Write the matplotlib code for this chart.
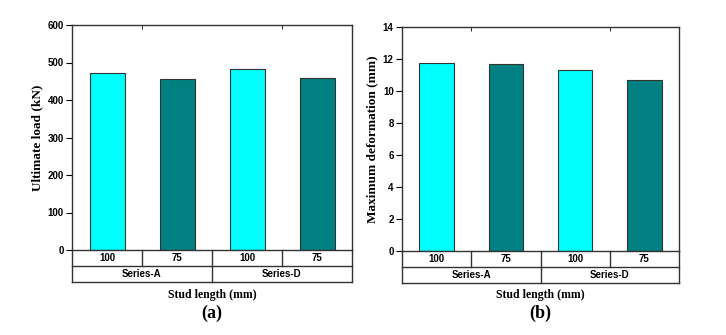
import matplotlib
matplotlib.use("Agg")
import matplotlib.pyplot as plt
from matplotlib.lines import Line2D

# values
stud_lengths = ["100", "75", "100", "75"]
series_names = ["Series-A", "Series-D"]
ultimate_load = [473, 456, 482, 460]
max_deformation = [11.75, 11.68, 11.31, 10.68]

bar_colors = ["#00FFFF", "#008080", "#00FFFF", "#008080"]
edge_col = "#333333"
W, H = 726, 335


def draw_panel(fig, rect, values, ylim, yticks, ylabel, tag):
    ax = fig.add_axes(rect)
    x = list(range(1, len(values) + 1))
    ax.bar(x, values, width=0.5, color=bar_colors, edgecolor=edge_col, linewidth=0.8)
    ax.set_xlim(0.5, len(values) + 0.5)
    ax.set_ylim(*ylim)
    ax.set_yticks(yticks)
    ax.set_xticks([])
    ax.set_xticks([1.5, 3.5], minor=True)
    ax.tick_params(axis="x", which="minor", top=True, bottom=False, direction="in", length=3)
    ax.tick_params(axis="y", direction="out", length=4, width=0.8, labelsize=7, pad=2)
    for lab in ax.get_yticklabels():
        lab.set_fontfamily("Liberation Sans")
        lab.set_fontweight("bold")
    for sp in ax.spines.values():
        sp.set_linewidth(1.0)
        sp.set_color(edge_col)
    ax.set_ylabel(ylabel, fontfamily="Liberation Serif", fontweight="bold", fontsize=9.5, labelpad=3)

    # category table below the axes
    ax_h_px = rect[3] * H
    row = 16.0 / ax_h_px
    tr = ax.get_xaxis_transform()
    lw = 1.0
    n = len(values)

    def line(xs, ys):
        ax.add_line(Line2D(xs, ys, transform=tr, clip_on=False, color=edge_col, lw=lw))

    line([0.5, 0.5], [0, -2 * row])
    line([n + 0.5, n + 0.5], [0, -2 * row])
    line([0.5, n + 0.5], [-row, -row])
    line([0.5, n + 0.5], [-2 * row, -2 * row])
    for b in [1.5, 3.5]:
        line([b, b], [0, -row])
    line([2.5, 2.5], [0, -2 * row])
    for xi, lab in zip(x, stud_lengths):
        ax.text(xi, -row / 2, lab, transform=tr, ha="center", va="center", fontsize=7,
                fontfamily="Liberation Sans", fontweight="bold")
    for xi, lab in zip([1.5, 3.5], series_names):
        ax.text(xi, -1.5 * row, lab, transform=tr, ha="center", va="center", fontsize=7,
                fontfamily="Liberation Sans", fontweight="bold")

    cx = rect[0] + rect[2] / 2
    fig.text(cx, (H - 295) / H, "Stud length (mm)", ha="center", va="center",
             fontfamily="Liberation Serif", fontweight="bold", fontsize=8.5)
    fig.text(cx, (H - 313) / H, tag, ha="center", va="center",
             fontfamily="Liberation Serif", fontweight="bold", fontsize=13)
    return ax


def main():
    fig = plt.figure(figsize=(W / 100, H / 100), dpi=100)
    draw_panel(fig, [72 / W, (H - 250) / H, 280 / W, 225 / H], ultimate_load,
               (0, 600), range(0, 601, 100), "Ultimate load (kN)", "(a)")
    draw_panel(fig, [402 / W, (H - 251) / H, 277 / W, 224 / H], max_deformation,
               (0, 14), range(0, 15, 2), "Maximum deformation (mm)", "(b)")
    fig.savefig("out.png", dpi=100)


if __name__ == "__main__":
    main()
